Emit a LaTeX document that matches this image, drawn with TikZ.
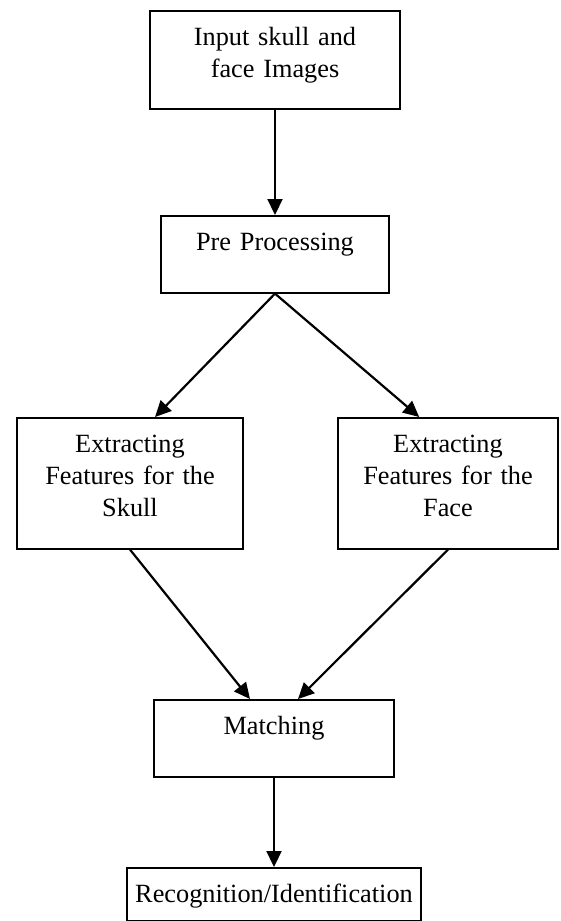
\documentclass[tikz,border=0pt]{standalone}
\usepackage{fontspec}
\setmainfont{Liberation Serif}
\usetikzlibrary{arrows.meta,calc}

\begin{document}
\begin{tikzpicture}[x=1pt, y=-1pt,
  stage/.style={draw, line width=1.6pt, anchor=north, inner xsep=4pt, inner ysep=0pt,
    align=center, font=\fontsize{26.3}{32}\selectfont, text height=35pt},
  flow/.style={line width=2.2pt, -{Triangle[width=15pt,length=16pt]}}]
  \useasboundingbox (0,0) rectangle (560,921);

  % Input and pre processing
  \node[stage, text width=242pt, text depth=63pt] (input) at (275,10) {Input skull and\\face Images};
  \node[stage, text width=220pt, text depth=42pt] (pre) at (275,215) {Pre Processing};

  % Feature extraction, one box per image kind
  \node[stage, text width=218pt, text depth=96pt] (skull) at (130,417) {Extracting\\Features for the\\Skull};
  \node[stage, text width=212pt, text depth=96pt] (face) at (448,417) {Extracting\\Features for the\\Face};

  % Matching and result
  \node[stage, text width=232pt, text depth=42pt] (match) at (274,699) {Matching};
  \node[stage, text width=286pt, text depth=18pt] (result) at (274,867) {Recognition/Identification};

  % Connectors
  \draw[flow] (input.south) -- (pre.north);
  \draw[flow] (pre.south) -- ($(skull.north west)!0.61!(skull.north east)$);
  \draw[flow] (pre.south) -- ($(face.north west)!0.37!(face.north east)$);
  \draw[flow] (skull.south) -- ([xshift=-24pt]match.north);
  \draw[flow] (face.south) -- ([xshift=24pt]match.north);
  \draw[flow] (match.south) -- (result.north);
\end{tikzpicture}
\end{document}
